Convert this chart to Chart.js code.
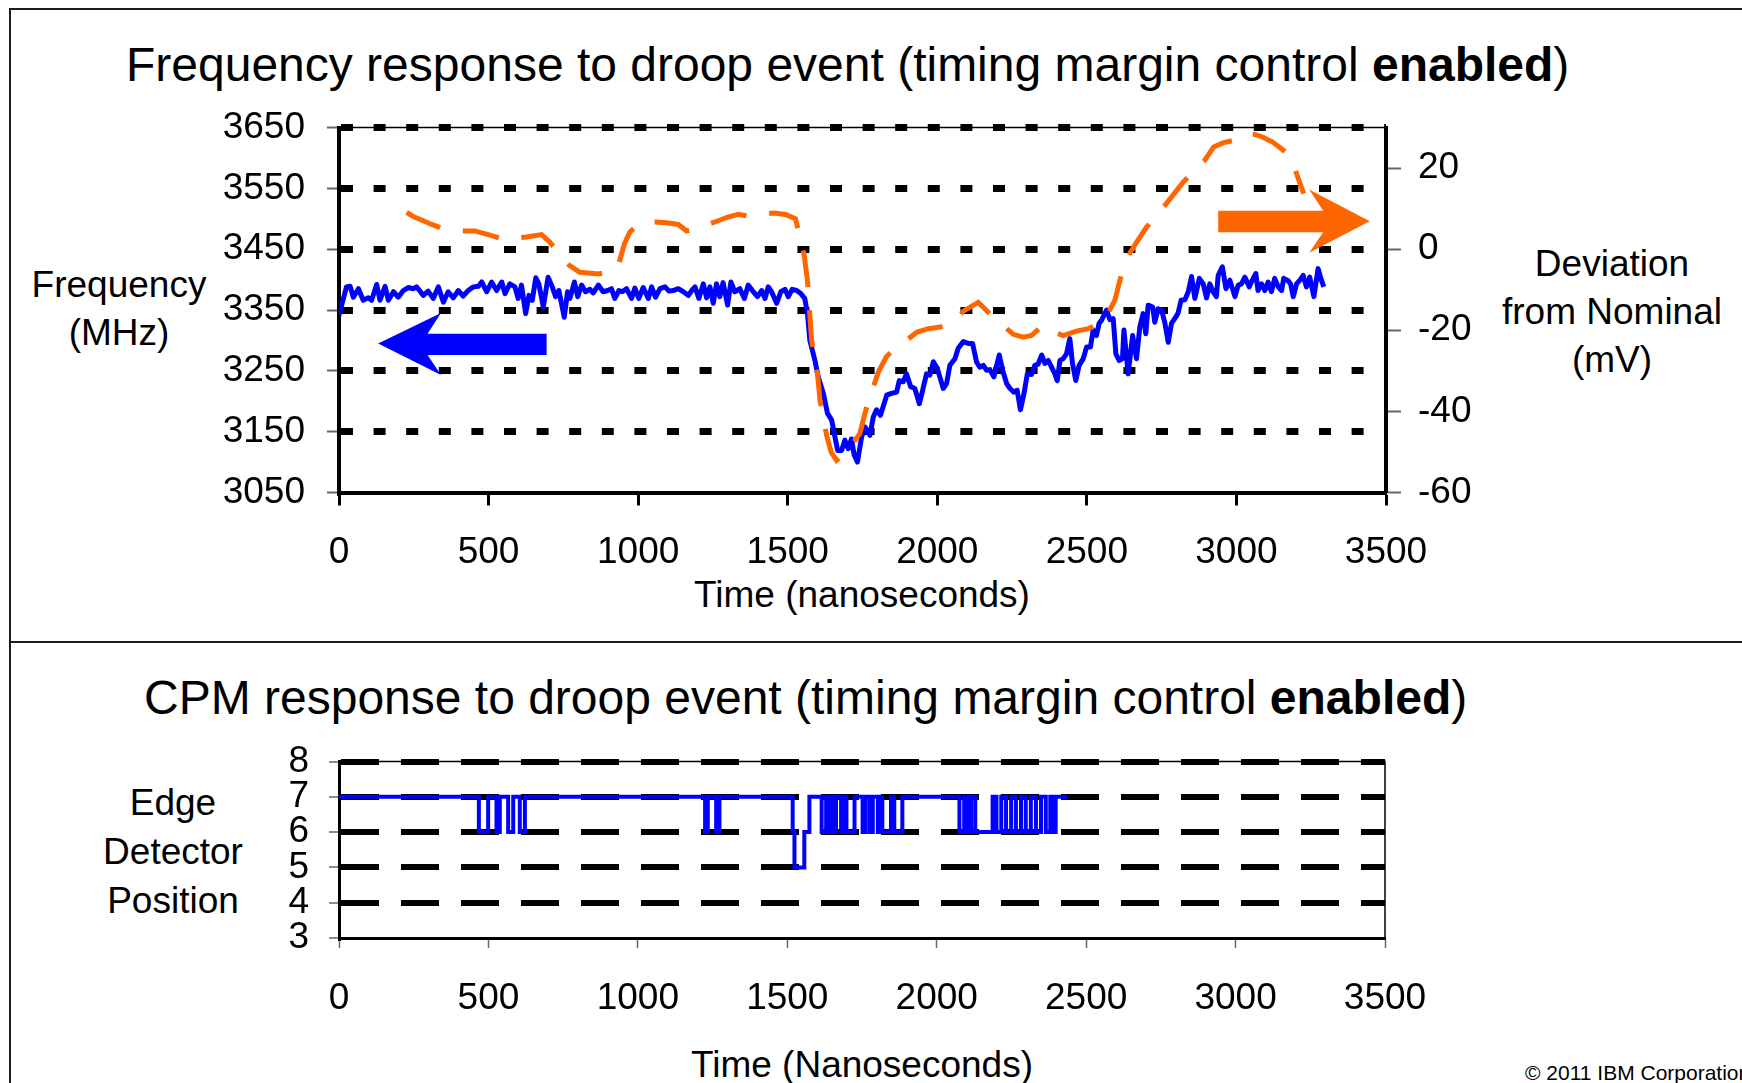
<!DOCTYPE html>
<html>
<head>
<meta charset="utf-8">
<script src="https://cdn.jsdelivr.net/npm/chart.js@4.4.0/dist/chart.umd.min.js"></script>
<style>
  html, body { margin: 0; padding: 0; background: #fff; }
  body { width: 1742px; height: 1083px; position: relative; overflow: hidden;
         font-family: 'Liberation Sans', Arial, sans-serif; color: #000; }
  .box { position: absolute; border: 2px solid #1c1c1c; }
  .wrap { position: absolute; left: 0; width: 1742px; }
  .lbl { position: absolute; width: 300px; white-space: nowrap; font-size: 37px; line-height: 48px; text-align: center; }
  .title { position: absolute; white-space: nowrap; font-size: 48px; line-height: 48px; }
</style>
</head>
<body>
<div class="box" style="left:9px; top:8px; width:1800px; height:631px;"></div>
<div class="box" style="left:9px; top:641px; width:1800px; height:600px;"></div>

<div class="title" style="left:126px; top:41px;">Frequency response to droop event (timing margin control <b>enabled</b>)</div>
<div class="lbl" style="left:-31px; top:261px;">Frequency<br>(MHz)</div>
<div class="lbl" style="left:1462px; top:240px;">Deviation<br>from Nominal<br>(mV)</div>
<div class="lbl" style="left:562px; top:571px; width:600px;">Time (nanoseconds)</div>

<div class="title" style="left:144px; top:674px;">CPM response to droop event (timing margin control <b>enabled</b>)</div>
<div class="lbl" style="left:23px; top:778px; line-height:49px;">Edge<br>Detector<br>Position</div>
<div class="lbl" style="left:562px; top:1041px; width:600px;">Time (Nanoseconds)</div>
<div style="position:absolute; left:1525px; top:1062px; font-size:21px; line-height:21px; white-space:nowrap;">© 2011 IBM Corporation</div>

<div class="wrap" style="top:0; height:640px;"><canvas id="freq"></canvas></div>
<div class="wrap" style="top:650px; height:433px;"><canvas id="cpm"></canvas></div>

<script>
// frequency (blue, left axis)
const freqTime = [0,25,37,48,65,81,98,109,126,137,
  154,165,182,198,215,232,249,259,271,282,
  298,315,332,349,365,382,399,415,432,449,
  466,477,494,510,527,544,555,571,588,599,
  610,624,635,646,658,668,683,699,713,724,
  735,753,764,772,787,798,811,824,839,850,
  867,883,898,911,922,936,947,961,978,989,
  1002,1017,1034,1045,1058,1073,1090,1103,1117,1134,
  1151,1168,1179,1190,1203,1218,1229,1240,1251,1262,
  1273,1284,1299,1310,1323,1340,1355,1368,1385,1399,
  1413,1424,1435,1446,1463,1477,1491,1502,1515,1530,
  1544,1557,1566,1574,1591,1602,1619,1633,1647,1658,
  1667,1680,1691,1702,1713,1722,1733,1747,1758,1775,
  1786,1797,1810,1831,1847,1864,1873,1886,1897,1911,
  1925,1940,1951,1964,1975,1987,2000,2020,2031,2042,
  2059,2070,2087,2103,2118,2131,2142,2154,2165,2176,
  2189,2207,2220,2232,2243,2256,2267,2278,2290,2301,
  2315,2326,2337,2349,2360,2371,2382,2393,2401,2410,
  2421,2432,2443,2452,2463,2474,2488,2499,2512,2521,
  2532,2541,2549,2557,2566,2577,2588,2597,2608,2619,
  2624,2638,2653,2666,2677,2688,2697,2705,2720,2727,
  2738,2750,2761,2772,2783,2798,2805,2815,2828,2839,
  2850,2861,2876,2889,2900,2911,2922,2933,2939,2953,
  2965,2978,2995,3006,3017,3028,3043,3050,3065,3072,
  3084,3095,3106,3117,3128,3140,3151,3158,3173,3181,
  3190,3201,3212,3223,3234,3245,3259,3273,3284,3292];
const freqMHz = [3341,3388,3389,3371,3385,3366,3370,3366,3392,3366,
  3389,3366,3380,3371,3382,3387,3385,3388,3381,3374,
  3381,3369,3388,3363,3380,3370,3382,3373,3382,3388,
  3389,3396,3380,3396,3382,3396,3377,3393,3388,3369,
  3391,3344,3374,3366,3403,3393,3355,3404,3388,3372,
  3382,3338,3380,3369,3396,3372,3391,3380,3384,3378,
  3391,3380,3382,3385,3369,3382,3380,3385,3369,3386,
  3369,3387,3369,3388,3371,3385,3388,3381,3382,3385,
  3380,3374,3382,3388,3369,3393,3370,3388,3361,3393,
  3372,3395,3358,3396,3380,3385,3369,3391,3380,3372,
  3382,3369,3388,3380,3361,3380,3384,3372,3384,3382,
  3377,3369,3344,3300,3267,3240,3213,3180,3169,3141,
  3119,3119,3136,3122,3138,3112,3100,3141,3158,3144,
  3174,3186,3177,3210,3213,3215,3234,3232,3245,3224,
  3221,3196,3218,3245,3243,3265,3254,3221,3229,3259,
  3270,3287,3298,3295,3295,3265,3256,3259,3251,3252,
  3240,3276,3248,3229,3221,3215,3218,3186,3213,3245,
  3244,3259,3261,3276,3262,3267,3256,3245,3234,3267,
  3270,3278,3303,3262,3234,3259,3270,3289,3289,3317,
  3308,3328,3333,3341,3350,3334,3336,3278,3267,3270,
  3317,3245,3308,3270,3322,3344,3311,3358,3355,3330,
  3352,3350,3328,3297,3328,3339,3345,3366,3367,3380,
  3405,3369,3402,3393,3370,3393,3380,3372,3407,3421,
  3385,3399,3372,3391,3393,3404,3388,3396,3410,3382,
  3393,3382,3396,3380,3402,3388,3382,3402,3398,3393,
  3372,3393,3399,3407,3388,3404,3372,3418,3399,3388];

// voltage deviation (orange, right axis)
const devTime = [226,250,276,310,349,385,421,454,499,555,
  590,627,677,705,735,770,805,867,900,931,
  954,972,1000,1023,1058,1095,1134,1162,1190,1223,
  1257,1295,1335,1374,1413,1457,1495,1526,1541,1555,
  1566,1574,1580,1600,1608,1630,1645,1663,1691,1724,
  1741,1764,1803,1830,1853,1897,1931,1970,2010,2048,
  2087,2137,2167,2200,2232,2254,2287,2315,2352,2390,
  2421,2465,2505,2544,2570,2594,2624,2645,2666,2699,
  2733,2761,2790,2822,2855,2894,2924,2955,2989,3023,
  3061,3089,3121,3155,3184,3201,3225];
const devMV = [9.1,8.0,7.2,6.1,5.0,4.6,4.5,4.5,3.6,2.3,
  2.7,3.0,3.6,1.7,-1.1,-4.0,-5.7,-6.1,-5.7,-4.8,
  1.3,4.2,6.1,6.7,6.7,6.5,6.1,4.5,5.0,5.9,
  6.7,7.8,8.6,8.1,8.7,8.9,8.5,7.5,3.0,-1.5,
  -7.7,-16.3,-22.5,-31.1,-37.3,-45.9,-50,-52.1,-50.5,-47.2,
  -45.5,-38.9,-30.3,-26.5,-24.8,-22.5,-20.5,-19.6,-19.2,-18.4,
  -15.3,-13.1,-15.3,-18,-19.6,-21.0,-21.7,-21.3,-18.8,-20.5,
  -21.3,-20.2,-19.6,-18.4,-16,-12.5,-3.8,-0.8,1.7,5.4,
  8.3,10.8,13.5,16.5,19.0,21.9,25.2,26.2,26.8,28.5,
  28.3,27.6,26.4,24.5,22.7,18.6,13.7];

// edge detector position (step changes)
const cpmTime = [0,468,499,527,538,566,583,605,622,1225,1234,1262,1273,
  1518,1524,1557,1574,
  1615,1630,1641,1649,1656,1663,1680,1690,1698,1725,1752,1761,1775,1786,1803,1812,1818,1847,1858,1885,
  2076,2092,2103,2115,2129,2187,2200,2216,2232,2249,2265,2282,2298,2315,2332,2349,2365,2380,2390,2398,
  2436];
const cpmPos = [7,6,7,6,7,6,7,6,7,6,7,6,7,
  6,5,6,7,
  6,7,6,7,6,7,6,7,6,7,6,7,6,7,6,7,6,7,6,7,
  6,7,6,7,6,7,6,7,6,7,6,7,6,7,6,7,6,7,6,7,
  7];

// axis ranges
const timeRange = [0, 3500, 500];
const freqRange = [3050, 3650, 100];
const devRange = [-60, 30, 20];
const cpmRange = [3, 8, 1];

// arrow annotations in (time, MHz)
const arrows = [
  { color: '#0000ff', pts: [[131,3295],[341,3345],[296,3311],[694,3311],[694,3276],[296,3276],[341,3243]] },
  { color: '#ff6600', pts: [[2939,3513],[3290,3513],[3243,3548],[3446,3496],[3243,3444],[3290,3478],[2939,3478]] }
];

Chart.defaults.font.family = "'Liberation Sans', Arial, sans-serif";
Chart.defaults.color = '#000';

const frame = {
  id: 'frame',
  beforeDatasetsDraw(chart) {
    const { ctx, chartArea: a } = chart;
    ctx.save();
    ctx.strokeStyle = '#000';
    ctx.lineWidth = 1.5;
    ctx.strokeRect(a.left, a.top, a.right - a.left, a.bottom - a.top);
    ctx.restore();
  }
};

const arrowPlugin = {
  id: 'arrows',
  afterDatasetsDraw(chart) {
    const { ctx, scales } = chart;
    arrows.forEach(a => {
      ctx.save();
      ctx.fillStyle = a.color;
      ctx.beginPath();
      a.pts.forEach((p, i) => {
        const x = scales.x.getPixelForValue(p[0]);
        const y = scales.y.getPixelForValue(p[1]);
        if (i === 0) ctx.moveTo(x, y); else ctx.lineTo(x, y);
      });
      ctx.closePath();
      ctx.fill();
      ctx.restore();
    });
  }
};

const tickFont = { size: 37 };
const plain = v => String(v);

function xScale(height, padding, tickColor, tickWidth, tickLength, borderWidth) {
  return {
    type: 'linear', min: timeRange[0], max: timeRange[1],
    ticks: { stepSize: timeRange[2], font: tickFont, padding: padding, maxRotation: 0, autoSkip: false, callback: plain },
    grid: { drawOnChartArea: false, tickColor: tickColor, tickWidth: tickWidth, tickLength: tickLength },
    border: { color: '#000', width: borderWidth },
    afterFit: s => { s.height = height; }
  };
}

new Chart(document.getElementById('freq'), {
  type: 'line',
  data: {
    datasets: [
      {
        data: devTime.map((t, i) => ({ x: t, y: devMV[i] })),
        yAxisID: 'y1', borderColor: '#ff6600', borderWidth: 5,
        borderDash: [37, 23], borderCapStyle: 'butt', pointRadius: 0, order: 0
      },
      {
        data: freqTime.map((t, i) => ({ x: t, y: freqMHz[i] })),
        yAxisID: 'y', borderColor: '#0000ff', borderWidth: 5,
        borderJoinStyle: 'round', pointRadius: 0, order: 1
      }
    ]
  },
  options: {
    responsive: true, maintainAspectRatio: false, animation: false, events: [],
    layout: { padding: { top: 127.5, left: 0, right: 0, bottom: 0 } },
    plugins: { legend: { display: false }, tooltip: { enabled: false } },
    scales: {
      x: xScale(147.5, 25, '#000', 3, 13, 4),
      y: {
        position: 'left', min: freqRange[0], max: freqRange[1],
        ticks: { stepSize: freqRange[2], font: tickFont, padding: 22, autoSkip: false, callback: plain },
        grid: { color: c => c.index === 0 ? 'transparent' : '#000', lineWidth: 7,
                tickColor: '#666', tickWidth: 2, tickLength: 12 },
        border: { color: '#000', width: 4, dash: [12, 20.6] },
        afterFit: s => { s.width = 339; }
      },
      y1: {
        position: 'right', min: devRange[0], max: devRange[1],
        ticks: { stepSize: devRange[2], font: tickFont, padding: 17, includeBounds: false, autoSkip: false, callback: plain },
        grid: { drawOnChartArea: false, tickColor: '#666', tickWidth: 2, tickLength: 15 },
        border: { color: '#000', width: 4 },
        afterFit: s => { s.width = 356; }
      }
    }
  },
  plugins: [frame, arrowPlugin]
});

new Chart(document.getElementById('cpm'), {
  type: 'line',
  data: {
    datasets: [{
      data: cpmTime.map((t, i) => ({ x: t, y: cpmPos[i] })),
      borderColor: '#0000ff', borderWidth: 4, stepped: true, pointRadius: 0
    }]
  },
  options: {
    responsive: true, maintainAspectRatio: false, animation: false, events: [],
    layout: { padding: { top: 111.5, left: 0, right: 357, bottom: 0 } },
    plugins: { legend: { display: false }, tooltip: { enabled: false } },
    scales: {
      x: xScale(145, 29, '#666', 1.5, 10, 3),
      y: {
        min: cpmRange[0], max: cpmRange[1],
        ticks: { stepSize: cpmRange[2], font: tickFont, padding: 20, autoSkip: false, callback: plain },
        grid: { color: c => c.index === 0 ? 'transparent' : '#000', lineWidth: 6,
                tickColor: '#666', tickWidth: 1.5, tickLength: 10 },
        border: { color: '#000', width: 3, dash: [38, 22] },
        afterFit: s => { s.width = 339; }
      }
    }
  },
  plugins: [frame]
});
</script>
</body>
</html>
